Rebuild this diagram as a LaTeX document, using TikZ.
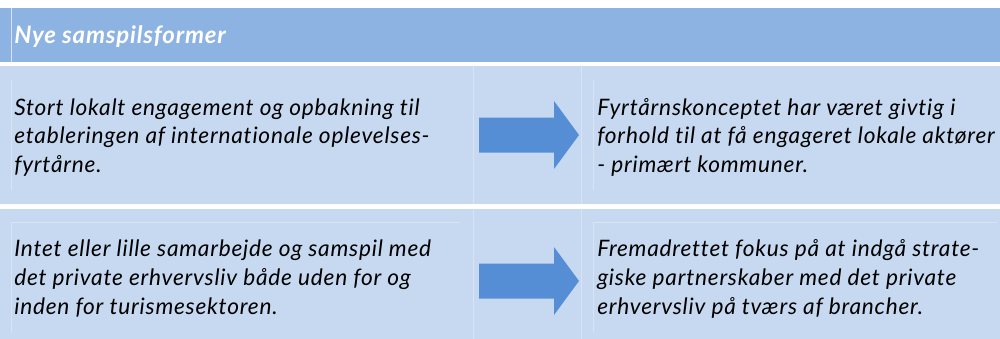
\documentclass[tikz,border=0pt]{standalone}
\usepackage{fontspec}
\setmainfont{Lato}[LetterSpace=3.4,Ligatures=NoCommon]
\usetikzlibrary{positioning}
\definecolor{hdrblue}{HTML}{8DB3E2}
\definecolor{rowblue}{HTML}{C6D9F1}
\definecolor{arrblue}{HTML}{558ED5}
\definecolor{faintline}{HTML}{D8E4F5}
\tikzset{
    %Define style for the bands
    hdrband/.style={fill=hdrblue, draw=none},
    rowband/.style={fill=rowblue, draw=none},
    %Define style for texts
    hdrtext/.style={
           anchor=base west,
           inner sep=0pt,
           text=white,
           font=\bfseries\itshape\fontsize{18}{20}\selectfont},
    celltext/.style={
           anchor=base west,
           inner sep=0pt,
           align=left,
           text=black,
           font=\itshape\fontsize{17}{21.5}\selectfont},
    % Define style for thin cell lines and block arrows
    fine/.style={draw=faintline, line width=0.6pt},
    bigarrow/.style={fill=arrblue, draw=none}
}
\begin{document}
\begin{tikzpicture}[x=0.75pt,y=-0.75pt]
\useasboundingbox (0,0) rectangle (1000,339);
% bands
\fill[hdrband] (0,8) rectangle (1000,62);
\fill[rowband] (0,66) rectangle (1000,204);
\fill[rowband] (0,209) rectangle (1000,339);
% cell lines
\draw[fine] (11,8) -- (11,62);
\foreach \top/\bot in {66/204,209/339}
  \draw[fine] (473,\top) -- (473,\bot) (581,\top) -- (581,\bot);
\draw[fine] (11,80) -- (11,190) (593,80) -- (593,190);
\draw[fine] (11,332) -- (11,222) -- (460,222) (593,332) -- (593,222) -- (997,222);
% block arrows
\foreach \cy in {135,281}
  \fill[bigarrow] (479,\cy-17.5) -- (554,\cy-17.5) -- (554,\cy-34) -- (579,\cy)
    -- (554,\cy+34) -- (554,\cy+17.5) -- (479,\cy+17.5) -- cycle;
% texts (base is the last line)
\node[hdrtext] (hdr) at (14,43) {Nye samspilsformer};
\node[celltext] (old1) at (14,172.5) {Stort lokalt engagement og opbakning til\\etableringen af internationale oplevelses-\\fyrtårne.};
\node[celltext] (new1) at (597,172.5) {Fyrtårnskonceptet har været givtig i\\forhold til at få engageret lokale aktører\\- primært kommuner.};
\node[celltext] (old2) at (14,314) {Intet eller lille samarbejde og samspil med\\det private erhvervsliv både uden for og\\inden for turismesektoren.};
\node[celltext] (new2) at (597,314) {Fremadrettet fokus på at indgå strate-\\giske partnerskaber med det private\\erhvervsliv på tværs af brancher.};
\end{tikzpicture}
\end{document}
